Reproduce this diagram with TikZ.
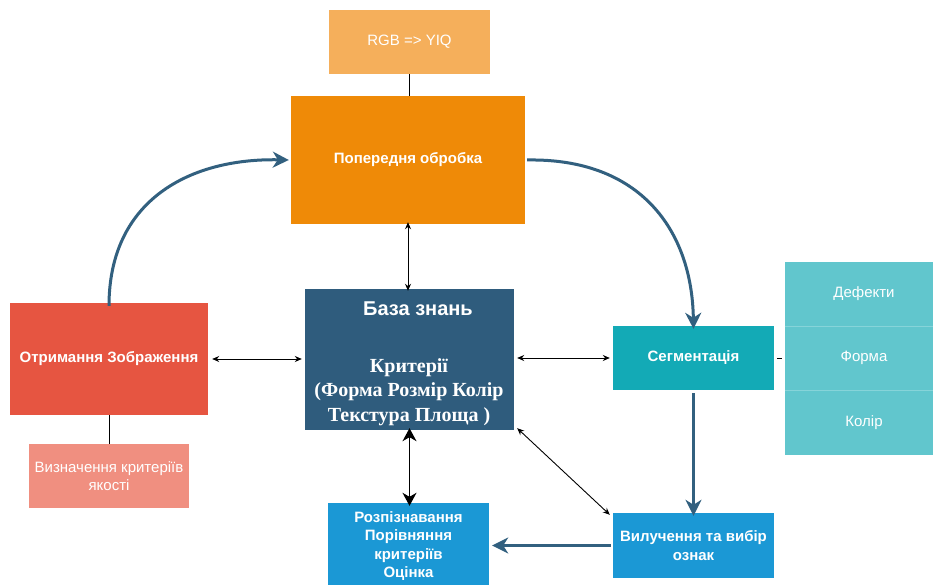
\documentclass[tikz,border=0pt]{standalone}
\usepackage{fontspec}
\setmainfont{Liberation Sans}
\newfontfamily\serifb{Liberation Serif}
\usetikzlibrary{arrows.meta}
\definecolor{cRgb}{HTML}{F5AF5B}
\definecolor{cPre}{HTML}{EF8A07}
\definecolor{cAcq}{HTML}{E65541}
\definecolor{cQual}{HTML}{F08F80}
\definecolor{cKb}{HTML}{2F5C7D}
\definecolor{cSeg}{HTML}{13AAB6}
\definecolor{cPanel}{HTML}{61C6CD}
\definecolor{cPanelLine}{HTML}{86D4D9}
\definecolor{cBlue}{HTML}{1B98D5}
\definecolor{cFlow}{HTML}{32607F}
\tikzset{
  box/.style={rectangle, inner sep=0pt, text=white, align=center, draw=none},
  boldtxt/.style={font=\fontsize{15}{18.5}\selectfont\bfseries},
  normtxt/.style={font=\fontsize{15}{18.5}\selectfont},
  flow/.style={draw=cFlow, line width=3pt, -{Stealth[length=16pt,width=16pt,inset=5pt]}},
  thin/.style={draw=black, line width=0.9pt, {Stealth[length=7pt,width=6pt]}-{Stealth[length=7pt,width=6pt]}},
  bigtwo/.style={draw=black, line width=1.3pt, {Stealth[length=13pt,width=14pt,inset=4pt]}-{Stealth[length=13pt,width=14pt,inset=4pt]}},
  plain/.style={draw=black, line width=0.9pt}
}
\begin{document}
\begin{tikzpicture}[x=1pt,y=-1pt]
\useasboundingbox[fill=white] (0,0) rectangle (933,585);
% boxes
\node[box, fill=cRgb, normtxt, minimum width=161pt, minimum height=64pt] (rgb) at (409.5,42) {RGB => YIQ};
\node[box, fill=cPre, boldtxt, minimum width=234pt, minimum height=128pt] (pre) at (408,160) {Попередня обробка};
\node[box, fill=cAcq, boldtxt, minimum width=198pt, minimum height=112pt] (acq) at (109,359) {Отримання Зображення};
\node[box, fill=cQual, normtxt, minimum width=160pt, minimum height=64pt] (qual) at (109,476) {Визначення критеріїв\\якості};
\node[box, fill=cKb, minimum width=209pt, minimum height=141pt] (kb) at (409.5,359.5) {};
\node[box, font=\fontsize{20}{24}\selectfont\bfseries] (kbtitle) at (418,309) {База знань};
\node[box, font=\serifb\fontsize{20}{24.5}\selectfont\bfseries] (kbtext) at (409,392) {Критерії\\(Форма Розмір Колір\\Текстура Площа )};
\node[box, fill=cSeg, boldtxt, minimum width=161pt, minimum height=64pt] (seg) at (693.5,358) {Сегментація};
\node[box, fill=cPanel, minimum width=160pt, minimum height=64.3pt] (p1) at (865,294) {};
\node[box, fill=cPanel, minimum width=160pt, minimum height=64.3pt] (p2) at (865,358.3) {};
\node[box, fill=cPanel, minimum width=160pt, minimum height=64.3pt] (p3) at (865,422.6) {};
\node[box, normtxt] (t1) at (864,294) {Дефекти};
\node[box, normtxt] (t2) at (864,358.3) {Форма};
\node[box, normtxt] (t3) at (864,422.6) {Колір};
\draw[cPanelLine, line width=0.8pt] (p1.south west) -- (p1.south east);
\draw[cPanelLine, line width=0.8pt] (p2.south west) -- (p2.south east);
\node[box, fill=cBlue, boldtxt, minimum width=161pt, minimum height=65pt] (feat) at (693.5,545.5) {Вилучення та вибір\\ознак};
\node[box, fill=cBlue, boldtxt, minimum width=161pt, minimum height=86pt] (rec) at (408.5,546) {Розпізнавання\\Порівняння\\критеріїв\\Оцінка};
% plain connectors
\draw[plain] (rgb.south) -- (rgb.south |- pre.north);
\draw[plain] (acq.south) -- (acq.south |- qual.north);
\coordinate (dashA) at (777,358);
\coordinate (dashB) at (782,358);
\draw[plain] (dashA) -- (dashB);
% flow arrows
\draw[flow] ([yshift=-3pt]acq.north) .. controls (109,200) and (190,158) .. ([xshift=-2pt]pre.west);
\draw[flow] ([xshift=2pt]pre.east) .. controls (640,158) and (692,230) .. ([yshift=-3pt]seg.north);
\draw[flow] ([yshift=-3pt]seg.south) -- ([yshift=-3pt]seg.south |- feat.north);
\draw[flow] ([xshift=-2pt]feat.west) -- ([xshift=3pt]feat.west -| rec.east);
% knowledge base arrows
\draw[thin] ([yshift=2pt]pre.south) -- ([yshift=-2pt]pre.south |- kb.north);
\draw[thin] ([xshift=4pt]acq.east) -- ([xshift=-3pt]acq.east -| kb.west);
\draw[thin] ([xshift=3pt]seg.west -| kb.east) -- ([xshift=-3pt]seg.west);
\draw[bigtwo] ([yshift=2pt]kb.south) -- ([yshift=-3pt]kb.south |- rec.north);
\draw[thin] ([xshift=3pt,yshift=2pt]kb.south east) -- ([xshift=-3pt,yshift=-2pt]feat.north west);
\end{tikzpicture}
\end{document}
